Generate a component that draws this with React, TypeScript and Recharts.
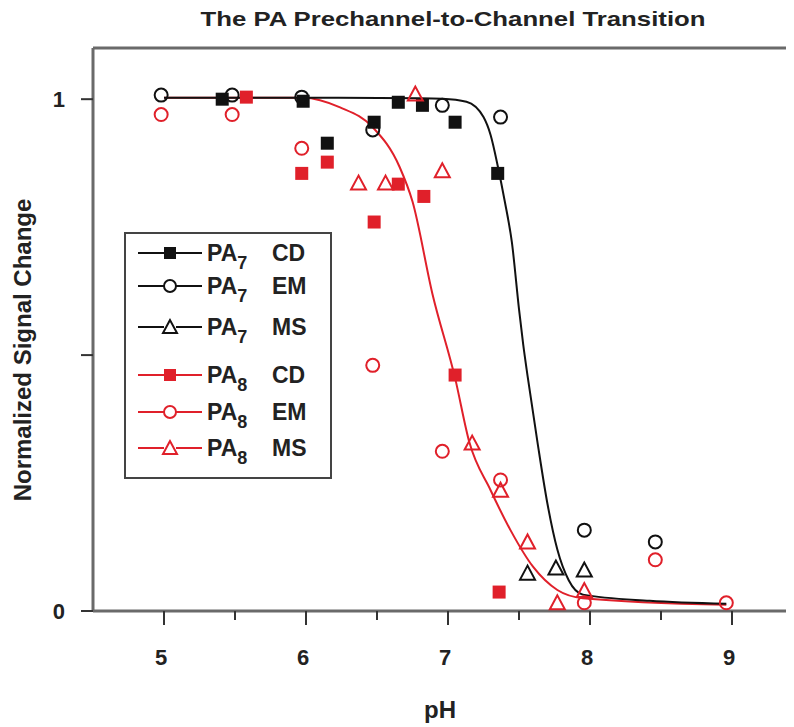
import React from 'react';
import { ComposedChart, Line, Scatter, XAxis, YAxis, ReferenceLine, Customized } from 'recharts';

// ---- data ----
const pa7CdPH = [5.41, 5.98, 6.15, 6.48, 6.65, 6.82, 7.05, 7.35];
const pa7CdSig = [1.0, 0.996, 0.914, 0.955, 0.994, 0.988, 0.955, 0.855];
const pa7EmPH = [4.98, 5.48, 5.97, 6.47, 6.96, 7.37, 7.96, 8.46];
const pa7EmSig = [1.008, 1.008, 1.004, 0.94, 0.988, 0.965, 0.158, 0.135];
const pa7MsPH = [7.56, 7.76, 7.96];
const pa7MsSig = [0.074, 0.084, 0.08];
const pa8CdPH = [5.58, 5.97, 6.15, 6.48, 6.65, 6.83, 7.05, 7.36];
const pa8CdSig = [1.004, 0.855, 0.877, 0.76, 0.834, 0.81, 0.461, 0.037];
const pa8EmPH = [4.98, 5.48, 5.97, 6.47, 6.96, 7.37, 7.96, 8.46, 8.96];
const pa8EmSig = [0.97, 0.97, 0.904, 0.48, 0.312, 0.256, 0.016, 0.1, 0.016];
const pa8MsPH = [6.37, 6.56, 6.77, 6.96, 7.17, 7.37, 7.56, 7.77, 7.96];
const pa8MsSig = [0.836, 0.836, 1.01, 0.86, 0.328, 0.236, 0.135, 0.016, 0.04];

const pa7FitPH = [5.0, 6.0, 6.8, 6.96, 7.13, 7.25, 7.3, 7.35, 7.4, 7.45, 7.5, 7.53, 7.56, 7.63, 7.7, 7.77, 7.85, 7.95, 8.42, 8.96];
const pa7FitSig = [1.003, 1.003, 1.002, 1.001, 0.995, 0.965, 0.93, 0.87, 0.8, 0.72, 0.59, 0.52, 0.46, 0.33, 0.21, 0.12, 0.06, 0.032, 0.02, 0.014];
const pa8FitPH = [5.0, 5.98, 6.24, 6.47, 6.66, 6.75, 6.89, 7.05, 7.15, 7.3, 7.44, 7.6, 7.77, 7.95, 8.96];
const pa8FitSig = [1.003, 1.003, 0.984, 0.945, 0.867, 0.8, 0.62, 0.455, 0.33, 0.236, 0.158, 0.086, 0.041, 0.025, 0.012];

const xTicks = [5, 5.5, 6, 6.5, 7, 7.5, 8, 8.5, 9];
const yTicks = [0, 0.5, 1];

const RED = '#e0202a';
const AXIS = '#6a6a6a';
const FONT = '"Liberation Sans", Arial, Helvetica, sans-serif';

const zip = (xs: number[], ys: number[]) => xs.map((x, i) => ({ x, y: ys[i] }));

const pa7Cd = zip(pa7CdPH, pa7CdSig);
const pa7Em = zip(pa7EmPH, pa7EmSig);
const pa7Ms = zip(pa7MsPH, pa7MsSig);
const pa8Cd = zip(pa8CdPH, pa8CdSig);
const pa8Em = zip(pa8EmPH, pa8EmSig);
const pa8Ms = zip(pa8MsPH, pa8MsSig);
const pa7Fit = zip(pa7FitPH, pa7FitSig);
const pa8Fit = zip(pa8FitPH, pa8FitSig);

type Kind = 'square' | 'circle' | 'triangle';

const Marker = ({ kind, cx, cy, color, s = 13 }: { kind: Kind; cx: number; cy: number; color: string; s?: number }) => {
  if (kind === 'square') {
    return <rect x={cx - s / 2} y={cy - s / 2} width={s} height={s} fill={color} stroke="none" />;
  }
  if (kind === 'circle') {
    return <circle cx={cx} cy={cy} r={s / 2} fill="none" stroke={color} strokeWidth={2} />;
  }
  const h = s;
  const w = s + 2;
  return (
    <polygon
      points={`${cx},${cy - h / 2 - 1} ${cx - w / 2},${cy + h / 2} ${cx + w / 2},${cy + h / 2}`}
      fill="none"
      stroke={color}
      strokeWidth={2}
      strokeLinejoin="miter"
    />
  );
};

const shapeOf = (kind: Kind, color: string) => (p: any) => <Marker kind={kind} cx={p.cx} cy={p.cy} color={color} />;

const XTick = (props: any) => {
  const { x, y, payload } = props;
  const v = payload.value;
  const major = Number.isInteger(v);
  return (
    <g>
      <line x1={x} x2={x} y1={y} y2={y + (major ? 14 : 9)} stroke="#333" strokeWidth={2} />
      {major && (
        <text x={x - 3} y={y + 54} textAnchor="middle" fontFamily={FONT} fontWeight="bold" fontSize={22} fill="#222">
          {v}
        </text>
      )}
    </g>
  );
};

const YTick = (props: any) => {
  const { x, y, payload } = props;
  const v = payload.value;
  return (
    <g>
      <line x1={x - 12} x2={x} y1={y} y2={y} stroke="#333" strokeWidth={2} />
      {v !== 0.5 && (
        <text x={x - 28} y={y} dy="0.36em" textAnchor="end" fontFamily={FONT} fontWeight="bold" fontSize={22} fill="#222">
          {v}
        </text>
      )}
    </g>
  );
};

const legendRows: { kind: Kind; color: string; sub: string; tech: string; y: number }[] = [
  { kind: 'square', color: '#111', sub: '7', tech: 'CD', y: 245 },
  { kind: 'circle', color: '#111', sub: '7', tech: 'EM', y: 278 },
  { kind: 'triangle', color: '#111', sub: '7', tech: 'MS', y: 319 },
  { kind: 'square', color: RED, sub: '8', tech: 'CD', y: 367 },
  { kind: 'circle', color: RED, sub: '8', tech: 'EM', y: 404 },
  { kind: 'triangle', color: RED, sub: '8', tech: 'MS', y: 440 },
];

const Decor = () => (
  <g>
    <text
      x={445}
      y={18}
      textAnchor="middle"
      fontFamily={FONT}
      fontWeight="bold"
      fontSize={21}
      textLength={505}
      lengthAdjust="spacingAndGlyphs"
      fill="#222"
    >
      The PA Prechannel-to-Channel Transition
    </text>
    <text x={432} y={710} textAnchor="middle" fontFamily={FONT} fontWeight="bold" fontSize={24} fill="#222">
      pH
    </text>
    <text
      x={23}
      y={342}
      transform="rotate(-90, 23, 342)"
      textAnchor="middle"
      fontFamily={FONT}
      fontWeight="bold"
      fontSize={24}
      fill="#222"
    >
      Normalized Signal Change
    </text>
    <rect x={117} y={225} width={206} height={245} fill="#fff" stroke="#444" strokeWidth={2} />
    {legendRows.map((r, i) => (
      <g key={i}>
        <line x1={130} x2={194} y1={r.y} y2={r.y} stroke={r.color} strokeWidth={2} />
        {r.kind !== 'square' && <rect x={156} y={r.y - 6} width={12} height={12} fill="#fff" />}
        <Marker kind={r.kind} cx={162} cy={r.y} color={r.color} s={12} />
        <text x={199} y={r.y + 8} fontFamily={FONT} fontWeight="bold" fontSize={23} fill="#222">
          PA
          <tspan fontSize={18} dy={8}>{r.sub}</tspan>
        </text>
        <text x={264} y={r.y + 8} fontFamily={FONT} fontWeight="bold" fontSize={23} fill="#222">
          {r.tech}
        </text>
      </g>
    ))}
  </g>
);

export default function App() {
  return (
    <div style={{ width: 786, height: 719, overflow: 'hidden' }}>
      <ComposedChart width={900} height={719} margin={{ top: 40, right: 105, left: 25, bottom: 56 }}>
        <XAxis
          dataKey="x"
          type="number"
          domain={[4.5, 9.5]}
          ticks={xTicks}
          allowDataOverflow
          height={60}
          tickSize={0}
          tickMargin={0}
          tickLine={false}
          tick={<XTick />}
          axisLine={{ stroke: AXIS, strokeWidth: 3 }}
          interval={0}
        />
        <YAxis
          type="number"
          domain={[0, 1.1]}
          ticks={yTicks}
          allowDataOverflow
          width={60}
          tickSize={0}
          tickMargin={0}
          tickLine={false}
          tick={<YTick />}
          axisLine={{ stroke: AXIS, strokeWidth: 3 }}
          interval={0}
        />
        <ReferenceLine y={1.1} stroke={AXIS} strokeWidth={3} />
        <Line data={pa8Fit} dataKey="y" type="monotone" dot={false} stroke={RED} strokeWidth={2} isAnimationActive={false} />
        <Line data={pa7Fit} dataKey="y" type="monotone" dot={false} stroke="#111" strokeWidth={2} isAnimationActive={false} />
        <Scatter data={pa7Cd} dataKey="y" shape={shapeOf('square', '#111')} isAnimationActive={false} />
        <Scatter data={pa7Em} dataKey="y" shape={shapeOf('circle', '#111')} isAnimationActive={false} />
        <Scatter data={pa7Ms} dataKey="y" shape={shapeOf('triangle', '#111')} isAnimationActive={false} />
        <Scatter data={pa8Cd} dataKey="y" shape={shapeOf('square', RED)} isAnimationActive={false} />
        <Scatter data={pa8Em} dataKey="y" shape={shapeOf('circle', RED)} isAnimationActive={false} />
        <Scatter data={pa8Ms} dataKey="y" shape={shapeOf('triangle', RED)} isAnimationActive={false} />
        <Customized component={<Decor />} />
      </ComposedChart>
    </div>
  );
}
